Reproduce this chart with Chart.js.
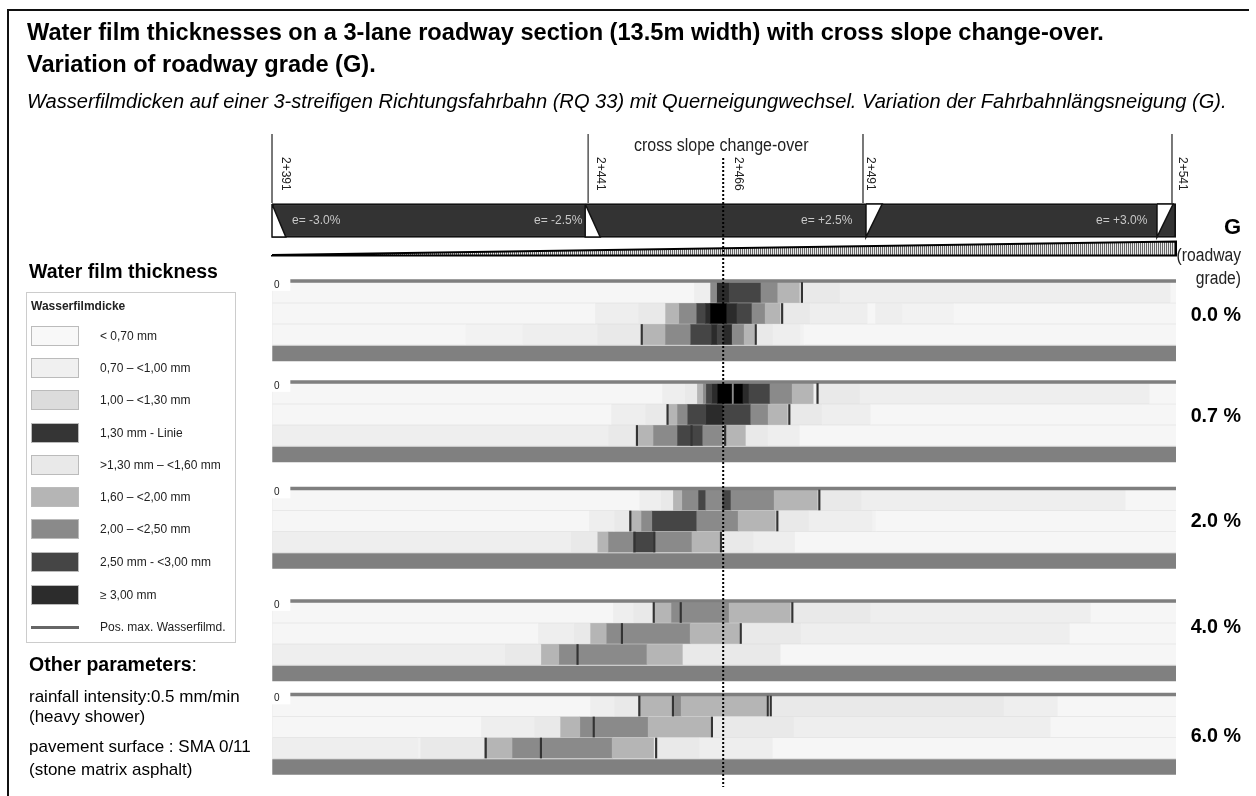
<!DOCTYPE html>
<html>
<head>
<meta charset="utf-8">
<title>Water film thicknesses</title>
<script src="https://cdn.jsdelivr.net/npm/chart.js@4/dist/chart.umd.min.js"></script>
<style>
  html, body { margin: 0; padding: 0; background: #fff; overflow: hidden; }
  #page { position: relative; width: 1256px; height: 796px; font-family: "Liberation Sans", Arial, sans-serif; color: #000; }
  #chart-water { position: absolute; left: 0; top: 0; }
  .t { position: absolute; white-space: nowrap; line-height: 1; }
  .st { writing-mode: vertical-rl; font-size: 12px; color: #222; top: 157px; }
  .e { font-size: 12px; color: #c8c8c8; top: 214px; }
  .g { font-weight: bold; font-size: 19.7px; right: 15px; }
  .zero { font-size: 10px; left: 274px; color: #222; }
  .nr { font-size: 18px; color: #222; right: 15px; transform: scaleX(0.87); transform-origin: right center; }
  #frame { position: absolute; left: 7px; top: 9px; width: 1240px; height: 800px; border-left: 2px solid #111; border-top: 2px solid #111; }
  #legend-box { position: absolute; left: 26px; top: 292px; width: 208px; height: 349px; border: 1px solid #ccc; }
  .sw { position: absolute; left: 31px; width: 46px; height: 18px; border: 1px solid #bbb; }
  .lt { font-size: 12px; color: #222; left: 100px; }
</style>
</head>
<body>
<div id="page">
  <canvas id="chart-water" width="1256" height="796"></canvas>
  <div id="frame"></div>
  <div class="t" style="left:27px;top:21px;font-size:23.6px;font-weight:bold">Water film thicknesses on a 3-lane roadway section (13.5m width) with cross slope change-over.</div>
  <div class="t" style="left:27px;top:53px;font-size:23.6px;font-weight:bold">Variation of roadway grade (G).</div>
  <div class="t" style="left:27px;top:91px;font-size:20.1px;font-style:italic">Wasserfilmdicken auf einer 3-streifigen Richtungsfahrbahn (RQ 33) mit Querneigungwechsel. Variation der Fahrbahnlängsneigung (G).</div>
  <div class="t" style="left:634px;top:136px;font-size:18px;color:#222;transform:scaleX(0.89);transform-origin:left center">cross slope change-over</div>

  <div class="t st" style="left:280px">2+391</div>
  <div class="t st" style="left:595px">2+441</div>
  <div class="t st" style="left:733px">2+466</div>
  <div class="t st" style="left:865px">2+491</div>
  <div class="t st" style="left:1177px">2+541</div>

  <div class="t e" style="left:292px">e= -3.0%</div>
  <div class="t e" style="left:534px">e= -2.5%</div>
  <div class="t e" style="left:801px">e= +2.5%</div>
  <div class="t e" style="left:1096px">e= +3.0%</div>

  <div class="t" style="right:15px;top:216px;font-size:22px;font-weight:bold">G</div>
  <div class="t nr" style="top:246px">(roadway</div>
  <div class="t nr" style="top:269px">grade)</div>
  <div class="t g" style="top:305px">0.0 %</div>
  <div class="t g" style="top:406px">0.7 %</div>
  <div class="t g" style="top:511px">2.0 %</div>
  <div class="t g" style="top:617px">4.0 %</div>
  <div class="t g" style="top:726px">6.0 %</div>

  <div class="t zero" style="top:280px">0</div>
  <div class="t zero" style="top:381px">0</div>
  <div class="t zero" style="top:487px">0</div>
  <div class="t zero" style="top:600px">0</div>
  <div class="t zero" style="top:693px">0</div>

  <div class="t" style="left:29px;top:262px;font-size:19.5px;font-weight:bold">Water film thickness</div>
  <div id="legend-box"></div>
  <div class="t" style="left:31px;top:300px;font-size:12px;font-weight:bold;color:#222">Wasserfilmdicke</div>
  <div id="legend-items"></div>

  <div class="t" style="left:29px;top:655px;font-size:19.5px"><b>Other parameters</b>:</div>
  <div class="t" style="left:29px;top:688px;font-size:17px">rainfall intensity:0.5 mm/min</div>
  <div class="t" style="left:29px;top:708px;font-size:17px">(heavy shower)</div>
  <div class="t" style="left:29px;top:738px;font-size:17px">pavement surface : SMA 0/11</div>
  <div class="t" style="left:29px;top:761px;font-size:17px">(stone matrix asphalt)</div>
</div>

<script>
// water film classes, the tones seen on the roadway
const T0 = 0, T1 = 1, T2 = 2, T3 = 3, T4 = 4, T5 = 5, T6 = 6, T7 = 7, TS = 8;
const toneColors = ['#f6f6f6', '#eeeeee', '#e9e9e9', '#b5b5b5', '#8a8a8a', '#454545', '#2b2b2b', '#000000', '#f2f2f2'];

// legend
const legendLabels = ['< 0,70 mm', '0,70 –  <1,00 mm', '1,00 – <1,30 mm', '1,30 mm - Linie', '>1,30 mm – <1,60 mm',
    '1,60 –  <2,00 mm', '2,00 – <2,50 mm', '2,50 mm - <3,00 mm', '≥ 3,00 mm'];
const legendColors = ['#f8f8f8', '#f0f0f0', '#dcdcdc', '#353535', '#e9e9e9', '#b5b5b5', '#8a8a8a', '#454545', '#2c2c2c'];
const legendTops = [326, 358, 390, 423, 455, 487, 519, 552, 585];

// section, stations in m
const stationStart = 2391;
const stationEnd = 2541.67;
const stationTicks = [2391, 2443.7, 2489.5, 2541];
const changeOver = 2466.2;

// grade 0.0 %: [end station, tone], lanes start at stationStart
const g00Lane1 = [[2461.3, T0], [2464, T1], [2465.1, T4], [2467.2, T6], [2472.5, T5], [2475.3, T4], [2479, T3], [2485.7, T2], [2540.8, T1], [stationEnd, T0]];
const g00Lane2 = [[2444.8, T0], [2452, T1], [2456.5, T2], [2458.8, T3], [2461.7, T4], [2463.2, T5], [2464, T6], [2466.8, T7], [2468.5, T6], [2471, T5], [2473.2, T4], [2475.8, T3], [2480.7, T2], [2490.3, T1], [2491.5, T0], [2496, T1], [2504.7, TS], [stationEnd, T0]];
const g00Lane3 = [[2423.2, T0], [2432.8, TS], [2445.2, T1], [2452.5, T2], [2456.5, T3], [2460.7, T4], [2464.2, T5], [2465.2, T6], [2466.2, T5], [2467.7, T6], [2469.7, T4], [2471.5, T3], [2474.5, T2], [2479, T1], [2479.7, TS], [stationEnd, T0]];
const g00Max = [[2479.2], [2475.9], [2452.5, 2471.5]];

// grade 0.7 %
const g07Lane1 = [[2456, T0], [2459.8, T1], [2461.8, T2], [2462.8, T3], [2463.3, T4], [2464.3, T5], [2465.2, T6], [2467.7, T7], [2467.9, T4], [2469.5, T7], [2470.5, T6], [2474, T5], [2477.7, T4], [2481.2, T3], [2481.7, TS], [2489, T2], [2537.3, T1], [stationEnd, T0]];
const g07Lane2 = [[2447.5, T0], [2453.2, T1], [2456.8, T2], [2458.5, T3], [2460.2, T4], [2463.3, T5], [2466.2, T6], [2470.8, T5], [2473.7, T4], [2477, T3], [2482.7, T2], [2490.8, T1], [stationEnd, T0]];
const g07Lane3 = [[2447, T1], [2451.7, T2], [2454.5, T3], [2458.5, T4], [2462.8, T5], [2466.2, T4], [2470, T3], [2473.7, T2], [2479, T1], [stationEnd, T0]];
const g07Max = [[2481.8], [2456.8, 2477.1], [2451.7, 2460.8, 2466.4]];

// grade 2.0 %
const g20Lane1 = [[2452.2, T0], [2455.8, T1], [2457.8, T2], [2459.3, T3], [2462, T4], [2463.3, T5], [2466, T4], [2467.5, T5], [2474.7, T4], [2482, T3], [2489.3, T2], [2533.3, T1], [stationEnd, T0]];
const g20Lane2 = [[2443.8, T0], [2448, T1], [2450.5, T2], [2452.5, T3], [2454.3, T4], [2461.8, T5], [2468.7, T4], [2475, T3], [2480.5, T2], [2491, T1], [2491.7, TS], [stationEnd, T0]];
const g20Lane3 = [[2440.8, T1], [2445.2, T2], [2447, T3], [2451.2, T4], [2454.7, T5], [2461, T4], [2465.7, T3], [2471.3, T2], [2478.2, T1], [stationEnd, T0]];
const g20Max = [[2482.1], [2450.6, 2475.1], [2451.3, 2454.6, 2465.7]];

// grade 4.0 %
const g40Lane1 = [[2447.8, T0], [2451.2, T1], [2454.5, T2], [2457.5, T3], [2467.2, T4], [2477.5, T3], [2490.8, T2], [2527.5, T1], [stationEnd, T0]];
const g40Lane2 = [[2435.3, T0], [2441.3, T1], [2444, T2], [2446.7, T3], [2460.7, T4], [2469, T3], [2479.2, T2], [2524, T1], [stationEnd, T0]];
const g40Lane3 = [[2429.8, T1], [2435.8, T2], [2438.8, T3], [2453.5, T4], [2459.5, T3], [2475.8, T2], [stationEnd, T0]];
const g40Max = [[2454.5, 2459, 2477.6], [2449.2, 2469], [2441.8]];

// grade 6.0 %
const g60Lane1 = [[2444, T0], [2448, T1], [2452, T2], [2457.7, T3], [2459.2, T4], [2473.5, T3], [2513, T2], [2522, T1], [stationEnd, T0]];
const g60Lane2 = [[2425.8, T0], [2434.7, T1], [2439, T2], [2442.3, T3], [2453.7, T4], [2464.2, T3], [2478, T2], [2520.8, T1], [stationEnd, T0]];
const g60Lane3 = [[2415.3, T1], [2415.8, TS], [2426.3, T2], [2431, T3], [2447.7, T4], [2454.7, T3], [2462.3, T2], [2474.5, T1], [stationEnd, T0]];
const g60Max = [[2452.1, 2457.7, 2473.5, 2474], [2444.5, 2464.2], [2426.5, 2435.7, 2454.9]];

const panelLanes = [
    [g00Lane1, g00Lane2, g00Lane3],
    [g07Lane1, g07Lane2, g07Lane3],
    [g20Lane1, g20Lane2, g20Lane3],
    [g40Lane1, g40Lane2, g40Lane3],
    [g60Lane1, g60Lane2, g60Lane3]
];
const panelMax = [g00Max, g07Max, g20Max, g40Max, g60Max];

// layout of the y scale, which runs in page rows
const panelTops = [278.5, 379.5, 486, 598.5, 692];
const laneOffsets = [14, 35, 56];

// legend, built from the arrays
let legendHtml = '';
legendLabels.forEach(function (label, i) {
    legendHtml += '<div class="sw" style="top:' + legendTops[i] + 'px;background:' + legendColors[i] + '"></div>';
    legendHtml += '<div class="t lt" style="top:' + (legendTops[i] + 4) + 'px">' + label.replace('<', '&lt;') + '</div>';
});
legendHtml += '<div style="position:absolute;left:31px;top:626px;width:48px;height:3px;background:#666"></div>';
legendHtml += '<div class="t lt" style="top:621px">Pos. max. Wasserfilmd.</div>';
document.getElementById('legend-items').innerHTML = legendHtml;

function barSet(color, thickness, order, data, extra) {
    return Object.assign({
        type: 'bar',
        indexAxis: 'y',
        grouped: false,
        barThickness: thickness,
        backgroundColor: color,
        borderWidth: 0,
        order: order,
        data: data
    }, extra || {});
}

function shapeSet(points, color, border, width, order, extra) {
    return Object.assign({
        type: 'line',
        indexAxis: 'x',
        data: points,
        backgroundColor: color,
        borderColor: border,
        borderWidth: width,
        pointRadius: 0,
        tension: 0,
        clip: false,
        order: order
    }, extra || {});
}

let datasets = [];

// lane background shows through as the pale lines between lanes
let separators = [], topLines = [], shoulders = [], zeroBoxes = [];
panelTops.forEach(function (top) {
    separators.push({ x: [stationStart + 0.1, stationEnd], y: top + 35 });
    topLines.push({ x: [2394, stationEnd], y: top + 2.5 });
    shoulders.push({ x: [stationStart + 0.1, stationEnd], y: top + 75 });
    zeroBoxes.push({ x: [stationStart, 2394], y: top + 6 });
});
datasets.push(barSet('#dcdcdc', 64, 30, separators));

// one dataset per tone
toneColors.forEach(function (color, tone) {
    let data = [];
    panelLanes.forEach(function (lanes, p) {
        lanes.forEach(function (lane, l) {
            let from = stationStart + 0.1;
            lane.forEach(function (seg) {
                if (seg[1] === tone) data.push({ x: [from, seg[0]], y: panelTops[p] + laneOffsets[l] });
                from = seg[0];
            });
        });
    });
    datasets.push(barSet(color, 20, 20, data));
});

// position of the max film depth in each lane
let maxData = [];
panelMax.forEach(function (lanes, p) {
    lanes.forEach(function (stations, l) {
        stations.forEach(function (s) {
            maxData.push({ x: [s, s + 0.25], y: panelTops[p] + laneOffsets[l] });
        });
    });
});
datasets.push(barSet('#333333', 20, 10, maxData));

datasets.push(barSet('#7f7f7f', 3, 10, topLines));
datasets.push(barSet('#808080', 15, 10, shoulders));
datasets.push(barSet('#ffffff', 12, 5, zeroBoxes));

// cross slope band
datasets.push(barSet('#333333', 34, 8, [{ x: [stationStart, stationEnd], y: 220.5 }],
    { borderColor: '#111111', borderWidth: 2, borderSkipped: false }));

// white wedges where the cross slope changes
const wedges = [
    [[2391, 204], [2391, 237], [2393.3, 237], [2391, 204]],
    [[2443.2, 204], [2443.2, 237], [2445.7, 237], [2443.2, 204]],
    [[2490, 204], [2492.7, 204], [2490, 237], [2490, 204]],
    [[2538.5, 204], [2541.2, 204], [2538.5, 237], [2538.5, 204]]
];
wedges.forEach(function (w) {
    datasets.push(shapeSet(w.map(function (p) { return { x: p[0], y: p[1] }; }), '#ffffff', '#111111', 1.5, 4, { fill: 'shape' }));
});

// grade wedge with a hatch
let hatchCanvas = document.createElement('canvas');
hatchCanvas.width = 2;
hatchCanvas.height = 2;
let hatchCtx = hatchCanvas.getContext('2d');
hatchCtx.fillStyle = '#e8e8e8';
hatchCtx.fillRect(0, 0, 2, 2);
hatchCtx.fillStyle = '#666666';
hatchCtx.fillRect(0, 0, 1, 2);
let hatch = hatchCtx.createPattern(hatchCanvas, 'repeat');
datasets.push(shapeSet([{ x: 2391, y: 255 }, { x: stationEnd, y: 241.5 }, { x: stationEnd, y: 255.5 }, { x: 2391, y: 255.5 }, { x: 2391, y: 255 }],
    hatch, '#000000', 2, 4, { fill: 'shape' }));

// station lines
stationTicks.forEach(function (s) {
    datasets.push(shapeSet([{ x: s, y: 134 }, { x: s, y: 203 }], 'transparent', '#666666', 1, 4));
});

// change-over line
datasets.push(shapeSet([{ x: changeOver, y: 158 }, { x: changeOver, y: 787 }], 'transparent', '#000000', 2, 1, { borderDash: [2, 2] }));

let chartWater = new Chart(document.getElementById('chart-water').getContext('2d'), {
    data: { datasets: datasets },
    options: {
        responsive: false,
        animation: false,
        devicePixelRatio: 1,
        layout: { padding: { left: 272, right: 80, top: 0, bottom: 0 } },
        scales: {
            x: { type: 'linear', min: stationStart, max: stationEnd, display: false, offset: false },
            y: { type: 'linear', min: 0, max: 796, reverse: true, display: false, offset: false }
        },
        plugins: { legend: { display: false }, tooltip: { enabled: false } }
    }
});
</script>
</body>
</html>
